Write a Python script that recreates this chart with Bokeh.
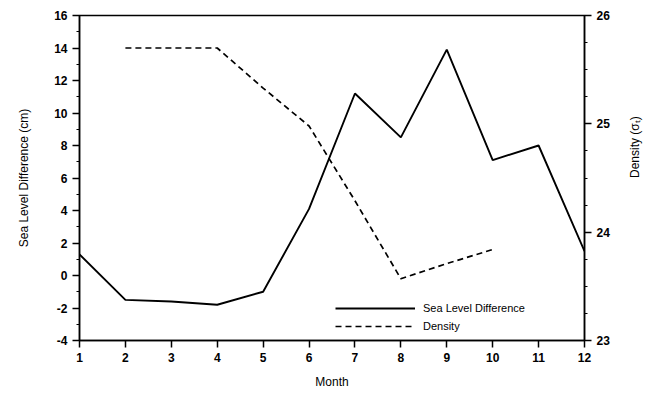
import math
from bokeh.plotting import figure
from bokeh.models import Range1d, LinearAxis, FixedTicker, Legend, LegendItem
from bokeh.embed import file_html
from bokeh.resources import INLINE

months = [1, 2, 3, 4, 5, 6, 7, 8, 9, 10, 11, 12]
sea_level = [1.3, -1.5, -1.6, -1.8, -1.0, 4.1, 11.2, 8.5, 13.9, 7.1, 8.0, 1.5]
density_months = [2, 3, 4, 5, 6, 7, 8, 9, 10]
density = [25.70, 25.70, 25.70, 25.33, 24.98, 24.29, 23.57, 23.71, 23.84]
sea_ticks = list(range(-4, 17, 2))
density_ticks = [23, 24, 25, 26]

FONT = "Liberation Sans"

p = figure(width=653, height=394, output_backend="svg", toolbar_location=None,
           x_range=Range1d(1, 12), y_range=Range1d(-4, 16),
           min_border_left=79, min_border_right=69, min_border_top=15, min_border_bottom=54)
p.extra_y_ranges = {"dens": Range1d(23, 26)}

p.xgrid.visible = False
p.ygrid.visible = False
p.outline_line_color = "black"
p.outline_line_width = 1.5
p.background_fill_color = "white"
p.border_fill_color = "white"

def style(ax, label):
    ax.axis_label = label
    ax.axis_label_text_font = FONT
    ax.axis_label_text_font_size = "12px"
    ax.axis_label_text_font_style = "normal"
    ax.axis_label_text_color = "black"
    ax.major_label_text_font = FONT
    ax.major_label_text_font_size = "12px"
    ax.major_label_text_font_style = "bold"
    ax.major_label_text_color = "black"
    ax.axis_line_color = "black"
    ax.axis_line_width = 1.5
    ax.major_tick_line_color = "black"
    ax.minor_tick_line_color = "black"
    ax.major_tick_line_width = 1.5
    ax.major_tick_in = 0
    ax.major_tick_out = 7
    ax.minor_tick_in = 0
    ax.minor_tick_out = 3

# bottom axis
xa = p.xaxis[0]
style(xa, "Month")
xa.ticker = FixedTicker(ticks=months)
xa.minor_tick_out = 0
xa.axis_label_standoff = 10

# left axis, plain hyphen for negative labels
ya = p.yaxis[0]
style(ya, "Sea Level Difference (cm)")
ya.ticker = FixedTicker(ticks=sea_ticks, minor_ticks=list(range(-4, 17)))
ya.major_label_overrides = {t: str(t) for t in sea_ticks}
ya.axis_label_standoff = 20

# right axis for density, label reading upwards
ra = LinearAxis(y_range_name="dens")
style(ra, "Density (σₜ)")
ra.ticker = FixedTicker(ticks=density_ticks,
                        minor_ticks=[23 + 0.25 * i for i in range(13)])
ra.axis_label_standoff = 22
ra.axis_label_orientation = math.pi / 2
p.add_layout(ra, "right")

r1 = p.line(months, sea_level, line_color="black", line_width=1.9)
r2 = p.line(density_months, density, y_range_name="dens", line_color="black",
            line_width=1.7, line_dash="6 4")

legend = Legend(items=[LegendItem(label="Sea Level Difference", renderers=[r1]),
                       LegendItem(label="Density", renderers=[r2])],
                location=(256, 6))
legend.border_line_color = None
legend.background_fill_alpha = 0
legend.padding = 0
legend.margin = 0
legend.spacing = 2
legend.glyph_width = 80
legend.glyph_height = 16
legend.label_height = 16
legend.label_standoff = 8
legend.label_text_font = FONT
legend.label_text_font_size = "11px"
legend.label_text_color = "black"
p.add_layout(legend, "center")

open("out.html", "w").write(file_html(p, INLINE))
